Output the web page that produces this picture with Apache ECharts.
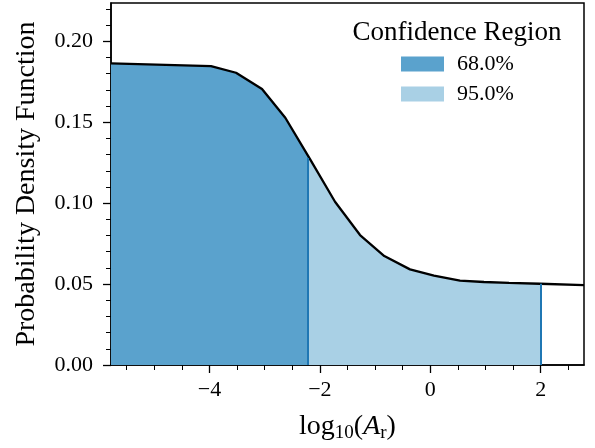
<!DOCTYPE html>
<html>
<head>
<meta charset="utf-8">
<script src="https://cdn.jsdelivr.net/npm/echarts@6/dist/echarts.min.js"></script>
<style>html,body{margin:0;padding:0;background:#fff;}#c{width:595px;height:448px;}</style>
</head>
<body>
<div id="c"></div>
<script>
// ---- data ----
const xValues = [-5.785, -3.973, -3.520, -3.049, -2.627, -2.179, -1.726, -1.273, -0.833, -0.368, 0.067, 0.538, 0.973, 1.426, 1.987, 2.785];
const pdfValues = [0.1864, 0.1847, 0.1806, 0.1705, 0.1528, 0.1272, 0.1009, 0.0803, 0.0673, 0.0591, 0.0553, 0.0521, 0.0513, 0.0507, 0.0502, 0.0494];
const region68 = [-5.785, -2.221];
const region95 = [-2.221, 1.996];
const boundaryHeights = [0.1279, 0.0502];
const regionNames = ['68.0%', '95.0%'];
const xMajorTicks = [-4, -2, 0, 2];
const xMinorTicks = [-5.5, -5, -4.5, -3.5, -3, -2.5, -1.5, -1, -0.5, 0.5, 1, 1.5, 2.5];
const yMajorTicks = [0, 0.05, 0.10, 0.15, 0.20];
const yMinorTicks = [0.01,0.02,0.03,0.04,0.06,0.07,0.08,0.09,0.11,0.12,0.13,0.14,0.16,0.17,0.18,0.19,0.21,0.22];
const xRange = [-5.785, 2.785];
const yRange = [0, 0.2237];

const darkBlue = '#5aa2cd';
const lightBlue = '#a9d0e5';
const edgeBlue = '#1f77b4';
const FONT = '"Liberation Serif", "DejaVu Serif", serif';

const curve = xValues.map((x, i) => [x, pdfValues[i]]);

const chart = echarts.init(document.getElementById('c'), null, {renderer: 'canvas'});

chart.setOption({
  animation: false,
  backgroundColor: '#fff',
  grid: {left: 111, top: 3, width: 473, height: 362, show: true, borderColor: '#000', borderWidth: 1.5, backgroundColor: 'transparent'},
  xAxis: [{
    type: 'value', min: xRange[0], max: xRange[1], position: 'bottom',
    axisLine: {show: true, onZero: false, lineStyle: {color: '#000', width: 1.5}},
    splitLine: {show: false},
    axisTick: {show: true, customValues: xMajorTicks, length: 8, inside: false, lineStyle: {color: '#000', width: 1.3}},
    axisLabel: {show: true, customValues: xMajorTicks, margin: 14, color: '#000', fontFamily: FONT, fontSize: 22,
      formatter: v => (v < 0 ? '\u2212' + Math.abs(v) : String(v))},
    name: '{a|log}{s|10}{a|(}{i|A}{s|r}{a|)}',
    nameLocation: 'middle', nameGap: 46,
    nameTextStyle: {color: '#000', fontFamily: FONT, fontSize: 28,
      rich: {
        a: {fontFamily: FONT, fontSize: 28, lineHeight: 32, color: '#000'},
        i: {fontFamily: FONT, fontSize: 28, fontStyle: 'italic', lineHeight: 32, color: '#000'},
        s: {fontFamily: FONT, fontSize: 19, lineHeight: 19, verticalAlign: 'bottom', color: '#000'}
      }}
  }, {
    type: 'value', min: xRange[0], max: xRange[1], position: 'bottom',
    axisLine: {show: false, onZero: false}, splitLine: {show: false}, axisLabel: {show: false},
    axisTick: {show: true, customValues: xMinorTicks, length: 5, lineStyle: {color: '#000', width: 1}}
  }],
  yAxis: [{
    type: 'value', min: yRange[0], max: yRange[1], position: 'left',
    axisLine: {show: true, onZero: false, lineStyle: {color: '#000', width: 1.5}},
    splitLine: {show: false},
    axisTick: {show: true, customValues: yMajorTicks, length: 8, lineStyle: {color: '#000', width: 1.3}},
    axisLabel: {show: true, customValues: yMajorTicks, margin: 18, color: '#000', fontFamily: FONT, fontSize: 22,
      formatter: v => v.toFixed(2)},
    name: 'Probability Density Function', nameLocation: 'middle', nameGap: 70, nameRotate: 90,
    nameTextStyle: {color: '#000', fontFamily: FONT, fontSize: 28}
  }, {
    type: 'value', min: yRange[0], max: yRange[1], position: 'left',
    axisLine: {show: false, onZero: false}, splitLine: {show: false}, axisLabel: {show: false},
    axisTick: {show: true, customValues: yMinorTicks, length: 5, lineStyle: {color: '#000', width: 1}}
  }],
  visualMap: {
    show: false, type: 'piecewise', seriesIndex: 0, dimension: 0,
    pieces: [
      {gte: region68[0] - 1, lt: region68[1], color: darkBlue},
      {gte: region95[0], lte: region95[1], color: lightBlue},
      {gt: region95[1], lte: xRange[1] + 1, color: 'rgba(255,255,255,0)'}
    ],
    outOfRange: {color: 'rgba(255,255,255,0)'}
  },
  legend: {
    orient: 'vertical', left: 396, top: 48, itemWidth: 43, itemHeight: 15, itemGap: 8,
    icon: 'rect', data: regionNames,
    textStyle: {color: '#000', fontFamily: FONT, fontSize: 22, lineHeight: 22, padding: [0, 0, 0, 8]}
  },
  graphic: [{
    type: 'text', x: 457, y: 33,
    style: {text: 'Confidence Region', fontFamily: FONT, fontSize: 27, fill: '#000', align: 'center', verticalAlign: 'middle'}
  }],
  series: [{
    type: 'line', data: curve, xAxisIndex: 0, yAxisIndex: 0, showSymbol: false, silent: true,
    lineStyle: {width: 0}, areaStyle: {opacity: 1}, z: 1
  }, {
    type: 'line', data: curve, xAxisIndex: 0, yAxisIndex: 0, showSymbol: false, silent: true,
    lineStyle: {color: '#000', width: 2.3}, itemStyle: {color: '#000'}, z: 3,
    markLine: {
      symbol: 'none', silent: true, label: {show: false},
      lineStyle: {color: edgeBlue, width: 2, type: 'solid'},
      data: [
        [{coord: [region68[1], 0]}, {coord: [region68[1], boundaryHeights[0]]}],
        [{coord: [region95[1], 0]}, {coord: [region95[1], boundaryHeights[1]]}]
      ]
    }
  }, {
    name: regionNames[0], type: 'bar', data: [], itemStyle: {color: darkBlue}
  }, {
    name: regionNames[1], type: 'bar', data: [], itemStyle: {color: lightBlue}
  }]
});
</script>
</body>
</html>
